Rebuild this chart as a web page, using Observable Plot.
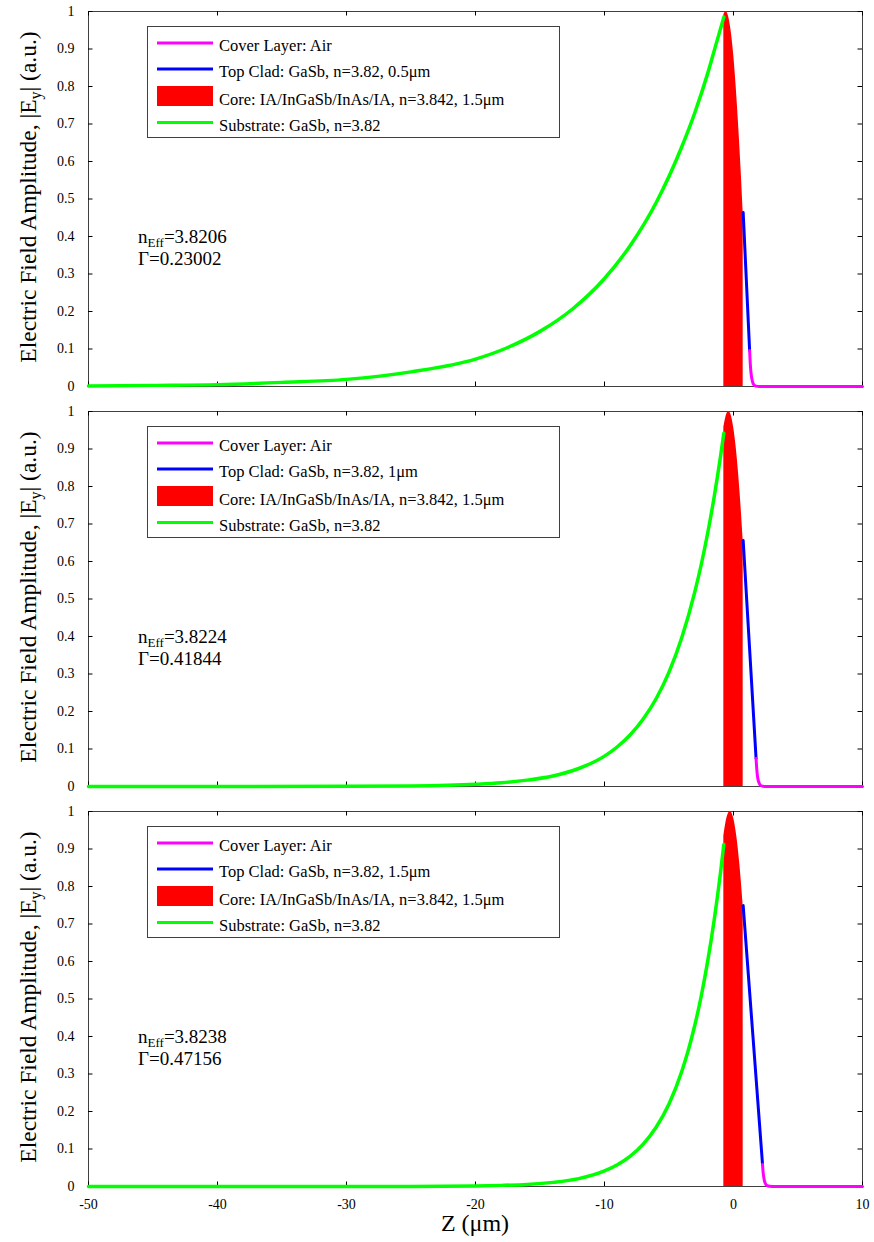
<!DOCTYPE html>
<html>
<head>
<meta charset="utf-8">
<script src="https://cdn.jsdelivr.net/npm/d3@7"></script>
<script src="https://cdn.jsdelivr.net/npm/@observablehq/plot@0.6"></script>
<style>
  body { margin: 0; background: #fff; }
  #wrap { position: relative; width: 874px; height: 1242px; font-family: "Liberation Serif", "Times New Roman", serif; }
  #wrap text { font-family: "Liberation Serif", "Times New Roman", serif; }
  .panel { position: absolute; left: 0; }
  #overlay { position: absolute; left: 0; top: 0; pointer-events: none; }
</style>
</head>
<body>
<div id="wrap"></div>
<script>
// ---- data (z in µm, |Ey| in a.u.) ----
const xTicks = [-50, -40, -30, -20, -10, 0, 10];
const yTicks = [0, 0.1, 0.2, 0.3, 0.4, 0.5, 0.6, 0.7, 0.8, 0.9, 1];

// substrate (green)
const sub1 = [[-50,0.0015],[-45,0.003],[-40,0.005],[-35,0.011],[-30,0.019],[-25,0.039],[-20,0.073],[-17.5,0.104],[-15,0.147],[-12.5,0.206],[-10,0.288],[-8,0.376],[-6,0.490],[-4,0.640],[-3,0.730],[-2,0.835],[-1.5,0.895],[-0.75,0.985]];
const sub2 = [[-50,0],[-40,0.0001],[-30,0.0004],[-25,0.0015],[-20,0.006],[-18,0.010],[-16,0.017],[-14,0.028],[-12,0.048],[-10,0.081],[-9,0.106],[-8,0.138],[-7,0.180],[-6,0.234],[-5,0.305],[-4,0.398],[-3,0.519],[-2.5,0.592],[-2,0.676],[-1.5,0.772],[-1,0.882],[-0.75,0.942]];
const sub3 = [[-50,0],[-30,0.0001],[-25,0.0003],[-20,0.0015],[-18,0.003],[-16,0.0056],[-14,0.011],[-12,0.021],[-10,0.0415],[-9,0.058],[-8,0.081],[-7,0.113],[-6,0.158],[-5,0.220],[-4,0.308],[-3.5,0.364],[-3,0.430],[-2.5,0.508],[-2,0.601],[-1.5,0.710],[-1,0.839],[-0.75,0.912]];

// core (red area)
const core1 = [[-0.75,0.99],[-0.6,1.0],[-0.4,0.989],[-0.2,0.952],[0,0.89],[0.2,0.803],[0.4,0.695],[0.6,0.570],[0.75,0.464]];
const core2 = [[-0.75,0.958],[-0.5,0.995],[-0.37,1.0],[-0.2,0.992],[0,0.960],[0.2,0.907],[0.4,0.832],[0.6,0.738],[0.75,0.656]];
const core3 = [[-0.75,0.935],[-0.5,0.984],[-0.25,1.0],[0,0.984],[0.25,0.935],[0.5,0.856],[0.75,0.749]];

// top clad (blue)
const clad1 = [[0.75,0.464],[1.0,0.280],[1.25,0.096]];
const clad2 = [[0.75,0.656],[1.25,0.366],[1.75,0.075]];
const clad3 = [[0.75,0.749],[1.5,0.404],[2.25,0.059]];

// cover layer, air (magenta)
const cover1 = [[1.25,0.096],[1.3,0.061],[1.35,0.039],[1.4,0.025],[1.5,0.010],[1.6,0.004],[1.75,0.001],[2,0],[10,0]];
const cover2 = [[1.75,0.075],[1.8,0.048],[1.85,0.030],[1.9,0.019],[2.0,0.008],[2.1,0.003],[2.3,0.0005],[2.5,0],[10,0]];
const cover3 = [[2.25,0.059],[2.3,0.037],[2.35,0.024],[2.4,0.015],[2.5,0.006],[2.6,0.0025],[2.8,0.0004],[3,0],[10,0]];

// texts
const coverLabel = "Cover Layer: Air";
const cladLabels = ["Top Clad: GaSb, n=3.82, 0.5\u03bcm", "Top Clad: GaSb, n=3.82, 1\u03bcm", "Top Clad: GaSb, n=3.82, 1.5\u03bcm"];
const coreLabel = "Core: IA/InGaSb/InAs/IA, n=3.842, 1.5\u03bcm";
const subLabel = "Substrate: GaSb, n=3.82";
const nEff = ["3.8206", "3.8224", "3.8238"];
const gammas = ["0.23002", "0.41844", "0.47156"];
const xLabel = "Z (\u03bcm)";

const subs = [sub1, sub2, sub3];
const cores = [core1, core2, core3];
const clads = [clad1, clad2, clad3];
const covers = [cover1, cover2, cover3];

const toRows = a => a.map(([z, v]) => ({z, v}));
const FONT = '"Liberation Serif", "Times New Roman", serif';

function makePanel(k) {
  const last = k === 2;
  const marks = [
    Plot.frame({stroke: "#404040"}),
    Plot.ruleX(xTicks, {x: d => d, y1: 0, y2: 0.012, stroke: "#000"}),
    Plot.ruleX(xTicks, {x: d => d, y1: 1, y2: 0.988, stroke: "#000"}),
    Plot.ruleY(yTicks, {y: d => d, x1: -50, x2: -49.65, stroke: "#000"}),
    Plot.ruleY(yTicks, {y: d => d, x1: 10, x2: 9.65, stroke: "#000"}),
    Plot.areaY(toRows(cores[k]), {x: "z", y: "v", fill: "#ff0000", curve: "monotone-x"}),
    Plot.line(toRows(subs[k]), {x: "z", y: "v", stroke: "#00ff00", strokeWidth: 3.5, curve: "monotone-x"}),
    Plot.line(toRows(clads[k]), {x: "z", y: "v", stroke: "#0000ff", strokeWidth: 3}),
    Plot.line(toRows(covers[k]), {x: "z", y: "v", stroke: "#ff00ff", strokeWidth: 3, curve: "monotone-x"}),
    Plot.axisY(yTicks, {tickSize: 0, tickPadding: 14, tickFormat: d => String(d), fontSize: 14, label: null})
  ];
  if (last) marks.push(Plot.axisX(xTicks, {tickSize: 0, tickPadding: 13, tickFormat: d => String(d), fontSize: 14, label: null}));
  return Plot.plot({
    width: 874,
    height: last ? 442 : 400,
    marginLeft: 88,
    marginRight: 12,
    marginTop: 11,
    marginBottom: last ? 56 : 14,
    x: {domain: [-50, 10], label: null, axis: last ? undefined : null},
    y: {domain: [0, 1], label: null},
    style: {fontFamily: FONT, color: "#000", background: "transparent", overflow: "visible"},
    marks
  });
}

const wrap = document.getElementById("wrap");
[0, 1, 2].forEach(k => {
  const p = makePanel(k);
  p.classList.add("panel");
  p.style.top = (400 * k) + "px";
  wrap.appendChild(p);
});

// overlay: axis titles, legends, annotations
const NS = "http://www.w3.org/2000/svg";
const ov = document.createElementNS(NS, "svg");
ov.setAttribute("id", "overlay");
ov.setAttribute("width", 874);
ov.setAttribute("height", 1242);
ov.setAttribute("font-family", FONT);
wrap.appendChild(ov);

function el(tag, attrs, parent = ov) {
  const e = document.createElementNS(NS, tag);
  for (const [a, v] of Object.entries(attrs)) e.setAttribute(a, v);
  parent.appendChild(e);
  return e;
}
function tspan(parent, txt, attrs = {}) {
  const t = el("tspan", attrs, parent);
  t.textContent = txt;
  return t;
}

[0, 1, 2].forEach(k => {
  const oy = 400 * k;
  // y axis title
  const cy = 197 + oy;
  const yt = el("text", {transform: `translate(36,${cy}) rotate(-90)`, "text-anchor": "middle", "font-size": 23.5, fill: "#000"});
  tspan(yt, "Electric Field Amplitude, |E");
  tspan(yt, "y", {"font-size": 16, dy: 5});
  tspan(yt, "| (a.u.)", {dy: -5});

  // legend
  const g = el("g", {transform: `translate(0,${oy})`});
  el("rect", {x: 147.5, y: 26.5, width: 412, height: 111, fill: "#fff", stroke: "#404040", "stroke-width": 1}, g);
  el("line", {x1: 157, x2: 213, y1: 43, y2: 43, stroke: "#ff00ff", "stroke-width": 3}, g);
  el("line", {x1: 157, x2: 213, y1: 69, y2: 69, stroke: "#0000ff", "stroke-width": 3}, g);
  el("rect", {x: 157, y: 86, width: 56, height: 20, fill: "#ff0000"}, g);
  el("line", {x1: 157, x2: 213, y1: 122.5, y2: 122.5, stroke: "#00ff00", "stroke-width": 3}, g);
  const labels = [[coverLabel, 50.5], [cladLabels[k], 76.5], [coreLabel, 104.5], [subLabel, 130.5]];
  labels.forEach(([t, y]) => {
    const tx = el("text", {x: 219, y, "font-size": 16.5, fill: "#000"}, g);
    tx.textContent = t;
  });

  // annotation
  const a1 = el("text", {x: 138, y: 242.5 + oy, "font-size": 19, fill: "#000"});
  tspan(a1, "n");
  tspan(a1, "Eff", {"font-size": 13, dy: 4});
  tspan(a1, "=" + nEff[k], {dy: -4});
  const a2 = el("text", {x: 138, y: 265 + oy, "font-size": 19, fill: "#000"});
  a2.textContent = "\u0393=" + gammas[k];
});

// x axis title
const xt = el("text", {x: 475, y: 1231, "text-anchor": "middle", "font-size": 24, fill: "#000"});
xt.textContent = xLabel;
</script>
</body>
</html>
